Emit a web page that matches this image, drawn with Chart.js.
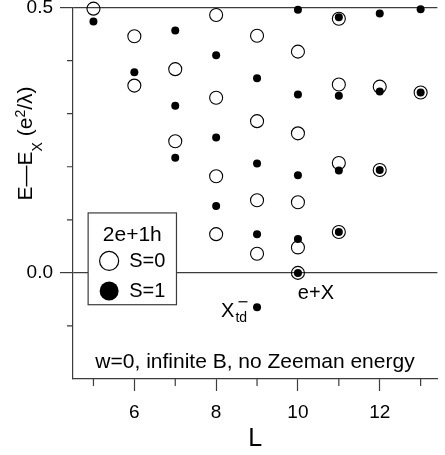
<!DOCTYPE html>
<html>
<head>
<meta charset="utf-8">
<script src="https://cdn.jsdelivr.net/npm/chart.js@4.4.0/dist/chart.umd.min.js"></script>
<style>
  html, body { margin: 0; padding: 0; background: #fff; overflow: hidden; }
  #wrap { position: relative; width: 445px; height: 455px; }
</style>
</head>
<body>
<div id="wrap"><canvas id="chart"></canvas></div>
<script>
/* ---------- data ---------- */
// S=0 (open circles)
const openL = [5, 6, 6, 7, 7, 8, 8, 8, 8, 9, 9, 9, 9, 10, 10, 10, 10, 10, 11, 11, 11, 11, 12, 12, 13];
const openE = [0.498, 0.446, 0.353, 0.384, 0.248, 0.486, 0.330, 0.182, 0.073, 0.447, 0.286, 0.137, 0.036,
               0.417, 0.263, 0.133, 0.048, 0.000, 0.479, 0.355, 0.207, 0.077, 0.351, 0.194, 0.340];
// S=1 (filled circles)
const filledL = [5, 6, 7, 7, 7, 8, 8, 8, 9, 9, 9, 9, 10, 10, 10, 10, 10, 11, 11, 11, 11, 12, 12, 12, 13, 13];
const filledE = [0.474, 0.378, 0.457, 0.315, 0.217, 0.410, 0.255, 0.126, 0.367, 0.206, 0.073, -0.065,
                 0.496, 0.336, 0.184, 0.064, 0.000, 0.482, 0.334, 0.193, 0.077, 0.489, 0.342, 0.194, 0.497, 0.340];

/* ---------- ticks ---------- */
const xTicks = [5, 6, 7, 8, 9, 10, 11, 12, 13];
const xMajor = [6, 8, 10, 12];
const yTicks = [-0.1, 0.0, 0.1, 0.2, 0.3, 0.4, 0.5];
const yMajor = [0.0, 0.5];

const FONT = "'Liberation Sans', Arial, sans-serif";
const INK = '#000';
const AXIS = '#3c3c3c';
const NONE = 'rgba(0,0,0,0)';

const isYMajor = v => yMajor.some(m => Math.abs(m - v) < 1e-9);
const toPts = (xs, ys) => xs.map((x, i) => ({ x: x, y: ys[i] }));

/* --------------- short minor ticks --------------- */
const minorTicks = {
  id: 'minorTicks',
  afterDraw(chart) {
    const { ctx, scales: { x, y } } = chart;
    ctx.save();
    ctx.strokeStyle = AXIS;
    ctx.lineWidth = 1.2;
    ctx.beginPath();
    xTicks.filter(v => !xMajor.includes(v)).forEach(v => {
      const px = x.getPixelForValue(v);
      ctx.moveTo(px, x.top);
      ctx.lineTo(px, x.top + 7);
    });
    yTicks.filter(v => !isYMajor(v)).forEach(v => {
      const py = y.getPixelForValue(v);
      ctx.moveTo(y.right - 6, py);
      ctx.lineTo(y.right, py);
    });
    ctx.stroke();
    ctx.restore();
  }
};

/* --------------- legend, labels, y title --------------- */
function text(ctx, str, px, py, size, align, base) {
  ctx.font = size + 'px ' + FONT;
  ctx.textAlign = align || 'left';
  ctx.textBaseline = base || 'alphabetic';
  ctx.fillText(str, px, py);
}

const annotations = {
  id: 'annotations',
  afterDraw(chart) {
    const { ctx, scales: { x, y } } = chart;
    ctx.save();
    ctx.fillStyle = INK;
    ctx.strokeStyle = INK;

    // legend box
    const bl = x.getPixelForValue(4.87), br = x.getPixelForValue(7.03);
    const bt = y.getPixelForValue(0.113), bb = y.getPixelForValue(-0.060);
    ctx.fillStyle = '#fff';
    ctx.fillRect(bl, bt, br - bl, bb - bt);
    ctx.lineWidth = 1.2;
    ctx.strokeStyle = AXIS;
    ctx.strokeRect(bl, bt, br - bl, bb - bt);
    ctx.fillStyle = INK;
    ctx.strokeStyle = INK;
    text(ctx, '2e+1h', (bl + br) / 2, bt + 28, 21, 'center');
    ctx.beginPath();
    ctx.arc(bl + 21, bt + 48, 9.5, 0, Math.PI * 2);
    ctx.lineWidth = 1.2;
    ctx.stroke();
    text(ctx, 'S=0', bl + 41, bt + 49, 20, 'left', 'middle');
    ctx.beginPath();
    ctx.arc(bl + 21, bt + 78, 9.5, 0, Math.PI * 2);
    ctx.fill();
    text(ctx, 'S=1', bl + 41, bt + 79, 20, 'left', 'middle');

    // X_td^- label
    const ax = x.getPixelForValue(8.448), ay = y.getPixelForValue(-0.0827);
    text(ctx, 'X', ax, ay, 20, 'right');
    text(ctx, 'td', ax + 1, ay + 5, 14, 'left');
    ctx.beginPath();
    ctx.lineWidth = 1.2;
    ctx.moveTo(ax + 4, ay - 15);
    ctx.lineTo(ax + 13, ay - 15);
    ctx.stroke();

    // e+X label
    text(ctx, 'e+X', x.getPixelForValue(10.44), y.getPixelForValue(-0.038), 20, 'center', 'middle');

    // caption
    text(ctx, 'w=0, infinite B, no Zeeman energy', x.getPixelForValue(8.95), y.getPixelForValue(-0.169), 21, 'center', 'middle');

    // y axis title  E—E_X (e^2/λ)
    const parts = [
      { t: 'E\u2014E', size: 21, dy: 0 },
      { t: 'X', size: 14, dy: 10 },
      { t: ' (e', size: 21, dy: 0 },
      { t: '2', size: 14, dy: -7 },
      { t: '/\u03bb)', size: 21, dy: 0 }
    ];
    ctx.translate(32, y.getPixelForValue(0.244));
    ctx.rotate(-Math.PI / 2);
    let w = 0;
    parts.forEach(p => { ctx.font = p.size + 'px ' + FONT; p.w = ctx.measureText(p.t).width; w += p.w; });
    let cx = -w / 2;
    parts.forEach(p => { text(ctx, p.t, cx, p.dy, p.size, 'left'); cx += p.w; });

    ctx.restore();
  }
};

/* --------------- chart --------------- */
Chart.defaults.font.family = FONT;
Chart.defaults.color = INK;

new Chart(document.getElementById('chart'), {
  type: 'scatter',
  data: {
    datasets: [
      {
        label: 'S=0',
        data: toPts(openL, openE),
        pointStyle: 'circle',
        pointRadius: 6.5,
        pointBorderWidth: 1.1,
        pointBorderColor: INK,
        pointBackgroundColor: NONE,
        clip: false,
        order: 2
      },
      {
        label: 'S=1',
        data: toPts(filledL, filledE),
        pointStyle: 'circle',
        pointRadius: 4,
        pointBorderWidth: 0,
        pointBorderColor: INK,
        pointBackgroundColor: INK,
        clip: false,
        order: 1
      }
    ]
  },
  options: {
    responsive: true,
    maintainAspectRatio: false,
    animation: false,
    events: [],
    layout: { padding: { top: 0, right: 0, bottom: 0, left: 0 } },
    plugins: {
      legend: { display: false },
      tooltip: { enabled: false }
    },
    scales: {
      x: {
        type: 'linear',
        min: 4.5,
        max: 13.41,
        afterBuildTicks: s => { s.ticks = xTicks.map(v => ({ value: v })); },
        afterFit: s => { s.height = 76; },
        ticks: {
          autoSkip: false,
          maxRotation: 0,
          padding: 10,
          color: INK,
          font: { size: 19 },
          callback: v => (xMajor.includes(v) ? String(v) : '')
        },
        grid: {
          drawOnChartArea: false,
          tickLength: 12,
          tickWidth: 1.2,
          tickColor: c => (c.tick && xMajor.includes(c.tick.value) ? AXIS : NONE)
        },
        border: { display: true, color: AXIS, width: 1.2 },
        title: { display: true, text: 'L', color: INK, font: { size: 25 }, padding: { top: 0, bottom: 1 } }
      },
      y: {
        type: 'linear',
        min: -0.2,
        max: 0.5,
        afterBuildTicks: s => { s.ticks = yTicks.map(v => ({ value: v })); },
        afterFit: s => { s.width = 73; s.paddingTop = 7; },
        ticks: {
          autoSkip: false,
          padding: 7,
          color: INK,
          font: { size: 19 },
          callback: v => (isYMajor(v) ? v.toFixed(1) : '')
        },
        grid: {
          drawOnChartArea: true,
          lineWidth: 1.2,
          color: c => (c.tick && isYMajor(c.tick.value) ? AXIS : NONE),
          tickLength: 13,
          tickWidth: 1.2,
          tickColor: c => (c.tick && isYMajor(c.tick.value) ? AXIS : NONE)
        },
        border: { display: true, color: AXIS, width: 1.2 }
      }
    }
  },
  plugins: [minorTicks, annotations]
});
</script>
</body>
</html>
